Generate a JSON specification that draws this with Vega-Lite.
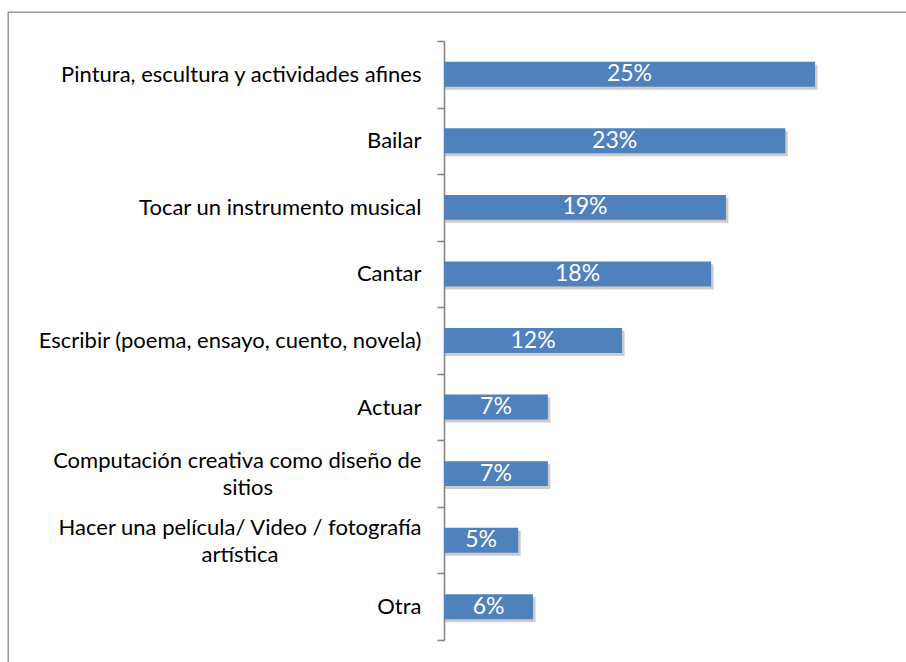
{
  "$schema": "https://vega.github.io/schema/vega-lite/v6.json",
  "width": 902,
  "height": 654,
  "autosize": "none",
  "padding": {"left": 8, "top": 12, "right": 0, "bottom": 0},
  "background": "white",
  "config": {
    "view": {"stroke": "#868686", "strokeWidth": 1.3},
    "font": "Lato"
  },
  "data": {
    "values": [
      {"actividad": "Pintura, escultura y actividades afines", "pct": 0.25},
      {"actividad": "Bailar", "pct": 0.23},
      {"actividad": "Tocar un instrumento musical", "pct": 0.19},
      {"actividad": "Cantar", "pct": 0.18},
      {"actividad": "Escribir (poema, ensayo, cuento, novela)", "pct": 0.12},
      {"actividad": "Actuar", "pct": 0.07},
      {"actividad": "Computación creativa como diseño de\nsitios", "pct": 0.07},
      {"actividad": "Hacer una película/ Video / fotografía\nartística", "pct": 0.05},
      {"actividad": "Otra", "pct": 0.06}
    ]
  },
  "encoding": {
    "y": {
      "field": "actividad",
      "type": "nominal",
      "sort": null,
      "scale": {"range": [29, 628], "paddingInner": 0, "paddingOuter": 0},
      "axis": {
        "title": null,
        "offset": -436,
        "domain": true,
        "domainColor": "#868686",
        "domainWidth": 1.6,
        "ticks": true,
        "tickBand": "extent",
        "tickSize": 7,
        "tickColor": "#868686",
        "tickWidth": 1.6,
        "grid": false,
        "labelFont": "Lato",
        "labelFontSize": 22,
        "labelColor": "#000000",
        "labelLimit": 0,
        "labelPadding": 16,
        "labelOverlap": false,
        "labelLineHeight": 27,
        "labelOffset": {"condition": {"test": "isValid(datum.value) && indexof(datum.value, '\\n') >= 0", "value": -13}, "value": 0},
        "labelExpr": "!isValid(datum.value) ? '' : indexof(datum.value, 'sitios') >= 0 ? [split(datum.value, '\\n')[0], split(datum.value, '\\n')[1] + '\u2003\u2003\u2003\u2003\u2003\u2003\u2003\u2003\u2002\u2009\u2009\u2060'] : indexof(datum.value, '\\n') >= 0 ? [split(datum.value, '\\n')[0], split(datum.value, '\\n')[1] + '\u2003\u2003\u2003\u2003\u2003\u2003\u2003\u2003\u2002\u2060'] : datum.value"
      }
    }
  },
  "layer": [
    {
      "mark": {"type": "bar", "color": "#8f8f8f", "opacity": 0.45, "xOffset": 2.5, "yOffset": 3, "height": {"band": 0.375}},
      "encoding": {
        "x": {"field": "pct", "type": "quantitative", "scale": {"domain": [-0.2938, 0.31402], "nice": false, "zero": false}, "axis": null},
        "x2": {"datum": 0}
      }
    },
    {
      "mark": {"type": "bar", "color": "#4F81BD", "height": {"band": 0.375}},
      "encoding": {
        "x": {"field": "pct", "type": "quantitative", "scale": {"domain": [-0.2938, 0.31402], "nice": false, "zero": false}, "axis": null},
        "x2": {"datum": 0}
      }
    },
    {
      "mark": {"type": "text", "color": "white", "font": "Lato", "fontSize": 23, "align": "center", "baseline": "middle"},
      "encoding": {
        "x": {"field": "pct", "type": "quantitative", "scale": {"domain": [-0.5876, 0.62804], "nice": false, "zero": false}, "axis": null},
        "text": {"field": "pct", "type": "quantitative", "format": ".0%"}
      }
    }
  ],
  "resolve": {"scale": {"x": "independent"}}
}
